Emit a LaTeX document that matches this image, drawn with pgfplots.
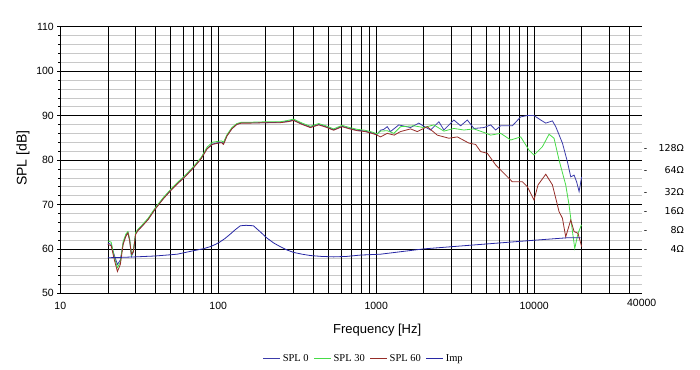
\documentclass[border=0pt]{standalone}
\usepackage{pgfplots}
\pgfplotsset{compat=1.18}
\usepackage{fontspec}
\setmainfont{Liberation Sans}
\newfontfamily\seriffont{Liberation Serif}
\newfontfamily\dejavu{DejaVu Sans}
\definecolor{splzero}{RGB}{60,60,170}
\definecolor{splthirty}{RGB}{70,220,70}
\definecolor{splsixty}{RGB}{150,45,40}
\definecolor{impcol}{RGB}{40,40,165}
\definecolor{minorgray}{RGB}{200,200,200}
\newcommand\ohmlab[1]{\makebox[40pt][l]{\dejavu\fontsize{9.5}{11}\selectfont -\hfill #1}}
\pgfplotsset{frame/.style={at={(60.3pt,75.7pt)}, anchor=south west,
  scale only axis, width=581.4pt, height=266.6pt}}
\begin{document}
\begin{tikzpicture}
\useasboundingbox (0,0) rectangle (700pt,369pt);
% background: light minor horizontal grid and right-hand impedance labels
\begin{axis}[
  frame,
  xmin=0, xmax=1, ymin=50, ymax=110,
  hide x axis,
  axis y line*=right,
  y axis line style={draw=none},
  ytick={60,64.3,68.6,72.7,77.7,82.6},
  yticklabels={\ohmlab{4Ω},\ohmlab{8Ω},\ohmlab{16Ω},\ohmlab{32Ω},\ohmlab{64Ω},\ohmlab{128Ω}},
  major tick length=0pt,
  yticklabel style={anchor=west, inner sep=0pt, xshift=2pt},
  minor ytick={52,54,56,58,62,64,66,68,72,74,76,78,82,84,86,88,92,94,96,98,102,104,106,108},
  minor tick length=0pt,
  yminorgrids,
  minor y grid style={minorgray, line width=0.5pt},
]
\end{axis}
\begin{axis}[
  frame,
  xmode=log, log basis x=10,
  xmin=10, xmax=48000, ymin=50, ymax=110,
  xtick={10,100,1000,10000}, xticklabels={10,100,1000,10000},
  minor xtick={20,30,40,50,60,70,80,90,200,300,400,500,600,700,800,900,2000,3000,4000,5000,6000,7000,8000,9000,20000,30000,40000},
  extra x ticks={48000}, extra x tick labels={40000},
  extra x tick style={grid=none, major tick length=0pt},
  ytick={50,60,...,110}, minor y tick num=4,
  axis x line*=bottom, axis y line*=left,
  axis line style={black, line width=0.7pt},
  xmajorgrids, xminorgrids, ymajorgrids,
  major grid style={black, line width=0.6pt},
  minor x grid style={black, line width=0.6pt},
  tick align=outside,
  x tick style={draw=none},
  major y tick style={black, line width=0.5pt},
  minor y tick style={black, line width=0.4pt},
  major tick length=3pt, minor tick length=2pt,
  /pgf/number format/assume math mode=true,
  tick label style={font=\fontsize{10.5}{12}\selectfont},
  xticklabel style={yshift=-2pt},
  xlabel={Frequency [Hz]}, ylabel={SPL [dB]},
  xlabel style={font=\fontsize{13}{15}\selectfont, at={(axis description cs:0.545,-0.138)}, anchor=center},
  ylabel style={font=\fontsize{14}{16}\selectfont, at={(axis description cs:-0.064,0.507)}, anchor=center},
  legend columns=4,
  legend style={draw=none, fill=none, at={(axis description cs:0.522,-0.246)}, anchor=center,
    font=\seriffont\fontsize{10.5}{12}\selectfont, /tikz/every even column/.append style={column sep=3pt}},
  legend cell align=left,
  every axis plot/.append style={line width=0.8pt},
]
\addplot[splzero] coordinates {(20,61.3)(21,61.0)(22,58.5)(23,56.5)(24,57.5)(25,61.3)(26,63.0)(26.8,63.7)(27.5,62.0)(28.2,58.3)(29,59.3)(30,63.4)(31,64.2)(33,65.2)(36,66.7)(40,69.1)(45,71.4)(50,73.2)(55,74.7)(62,76.4)(70,78.4)(78,80.4)(85,82.6)(92,83.6)(100,83.9)(105,84.0)(108,83.7)(113.6,85.5)(122,87.1)(131,88.0)(140,88.4)(160,88.4)(200,88.4)(247,88.5)(275,88.7)(300,89.0)(340,88.1)(383,87.4)(433,88.0)(480,87.5)(538,86.8)(608,87.6)(680,87.1)(758,86.7)(850,86.5)(940,86.1)(1014,85.8)(1065,86.7)(1117,86.9)(1175,87.5)(1232,86.4)(1391,87.9)(1650,87.3)(1862,88.3)(2050,87.4)(2209,86.75)(2495,88.6)(2684,86.75)(3105,89.0)(3426,87.7)(3776,89.0)(4160,87.1)(4812,87.3)(5307,87.9)(5708,86.75)(6140,87.7)(7280,87.7)(8222,89.7)(9000,90.0)(9980,90.0)(11010,89.0)(11850,88.3)(13060,88.8)(13710,87.5)(15110,83.8)(16250,79.6)(17060,76.2)(17910,76.6)(18620,75.0)(19270,72.9)(20000,76.2)};
\addlegendentry{SPL 0}
\addplot[splthirty] coordinates {(20,61.8)(21,61.5)(22,58.0)(23,55.8)(24,57.0)(25,61.6)(26,63.3)(26.8,63.9)(27.5,62.2)(28.2,58.6)(29,59.6)(30,63.7)(31,64.4)(33,65.4)(36,66.9)(40,69.3)(45,71.6)(50,73.4)(55,74.9)(62,76.6)(70,78.6)(78,80.6)(85,82.9)(92,84.0)(100,84.2)(105,84.3)(108,84.0)(113.6,85.7)(122,87.3)(131,88.2)(140,88.5)(160,88.5)(200,88.6)(247,88.6)(275,88.9)(300,89.2)(340,88.3)(383,87.6)(433,88.2)(480,87.7)(538,87.0)(608,87.8)(680,87.3)(758,86.9)(850,86.7)(940,86.3)(1014,85.9)(1065,86.5)(1175,86.6)(1294,86.0)(1426,87.5)(1732,87.7)(2004,87.3)(2318,87.9)(2684,86.5)(3105,87.1)(3594,86.75)(4160,87.0)(4812,86.2)(5307,85.6)(6140,86.0)(7110,84.5)(8225,85.2)(9290,82.2)(9980,81.1)(11290,83.0)(12430,85.8)(13370,84.9)(14380,80.0)(15850,74.4)(16640,69.9)(17490,63.9)(18090,60.1)(18970,63.5)(19950,65.4)};
\addlegendentry{SPL 30}
\addplot[splsixty] coordinates {(20,61.0)(21,60.7)(22,57.5)(23,54.9)(24,56.5)(25,61.0)(26,62.8)(26.8,63.6)(27.5,61.8)(28.2,58.8)(29,59.3)(30,63.3)(31,64.1)(33,65.1)(36,66.6)(40,69.0)(45,71.3)(50,73.1)(55,74.6)(62,76.3)(70,78.3)(78,80.3)(85,82.5)(92,83.5)(100,83.8)(105,83.9)(108,83.5)(113.6,85.4)(122,87.0)(131,88.0)(140,88.3)(160,88.3)(200,88.4)(247,88.4)(275,88.6)(300,88.9)(340,88.0)(383,87.3)(433,87.9)(480,87.4)(538,86.7)(608,87.5)(680,87.0)(758,86.6)(850,86.4)(940,86.0)(1014,85.6)(1065,85.2)(1175,86.0)(1300,85.6)(1426,86.4)(1650,87.0)(1820,86.4)(2106,87.5)(2437,85.6)(2886,84.9)(3266,85.2)(3866,83.8)(4263,83.5)(4586,81.9)(5058,81.5)(5708,78.9)(6607,76.6)(7280,75.1)(8430,75.1)(9060,74.0)(9290,73.2)(9980,71.0)(10590,74.4)(11850,76.8)(13060,74.4)(14380,68.4)(15110,66.9)(15850,62.7)(17060,66.5)(17910,63.9)(18970,63.5)(20000,60.5)};
\addlegendentry{SPL 60}
\addplot[impcol] coordinates {(20,58.0)(25,58.1)(30,58.2)(40,58.4)(47,58.6)(55,58.8)(62,59.2)(70,59.6)(80,60.0)(89,60.5)(96,61.0)(103,61.6)(110,62.3)(119,63.3)(128,64.3)(138,65.2)(150,65.3)(167,65.2)(185,63.8)(204,62.4)(225,61.3)(247,60.5)(270,59.8)(300,59.2)(340,58.8)(383,58.5)(450,58.3)(538,58.2)(650,58.3)(795,58.6)(1065,58.8)(2004,60.0)(4586,61.0)(10500,62.0)(16250,62.5)(19700,62.5)};
\addlegendentry{Imp}
\end{axis}
\end{tikzpicture}
\end{document}
